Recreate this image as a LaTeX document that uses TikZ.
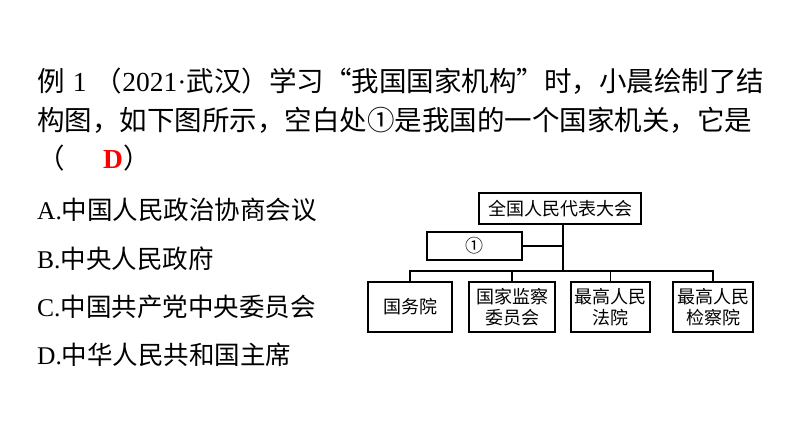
\documentclass[tikz,border=0pt]{standalone}
\usepackage{fontspec}
\setmainfont{Liberation Serif}
\newfontfamily\cjk{Noto Sans CJK SC}
\usetikzlibrary{positioning}
\tikzset{
  orgbox/.style={draw, line width=1.1pt, inner sep=0pt, font=\cjk\fontsize{18}{21}\selectfont, align=center},
  link/.style={line width=1.1pt},
  qline/.style={anchor=base west, inner sep=0pt, font=\cjk\fontsize{27.5}{30}\selectfont},
  optline/.style={anchor=base west, inner sep=0pt, font=\cjk\fontsize{25.5}{30}\selectfont}
}
\begin{document}
\begin{tikzpicture}[x=1pt,y=-1pt]
	\useasboundingbox (0,0) rectangle (794,446);
	% question text
	\node (q1) [qline] at (37,92) {例\hspace{0.3em}{\rmfamily 1}\hspace{0.3em}（{\rmfamily 2021·}武汉）学习“我国国家机构”时，小晨绘制了结};
	\node (q2) [qline] at (37,131) {构图，如下图所示，空白处①是我国的一个国家机关，它是};
	\node (q3) [qline] at (37,169) {（\hspace{1.4em}{\rmfamily\bfseries\color{red}D}）};
	% options
	\node (optA) [optline] at (37,220) {{\rmfamily A.}中国人民政治协商会议};
	\node (optB) [optline] at (37,268) {{\rmfamily B.}中央人民政府};
	\node (optC) [optline] at (37,316) {{\rmfamily C.}中国共产党中央委员会};
	\node (optD) [optline] at (37,364) {{\rmfamily D.}中华人民共和国主席};
	% structure chart
	\node (npc) [orgbox, minimum width=162pt, minimum height=31pt] at (560,208.5) {全国人民代表大会};
	\node (blank) [orgbox, minimum width=95pt, minimum height=28pt] at (474.5,246) {①};
	\node (state) [orgbox, minimum width=84pt, minimum height=50pt] at (410,307) {国务院};
	\node (super) [orgbox, minimum width=86pt, minimum height=50pt] at (512,307) {国家监察\\委员会};
	\node (court) [orgbox, minimum width=79pt, minimum height=50pt] at (610.5,307) {最高人民\\法院};
	\node (procu) [orgbox, minimum width=80pt, minimum height=50pt] at (713,307) {最高人民\\检察院};
	\coordinate (bus) at (563,271);
	\draw [link] (npc.south -| bus) -- (bus);
	\draw [link] (blank.east) -- (blank.east -| bus);
	\draw [link] (state.north) |- (bus) -| (procu.north);
	\draw [link] (super.north) -- (super.north |- bus);
	\draw [link] (court.north) -- (court.north |- bus);
\end{tikzpicture}
\end{document}
